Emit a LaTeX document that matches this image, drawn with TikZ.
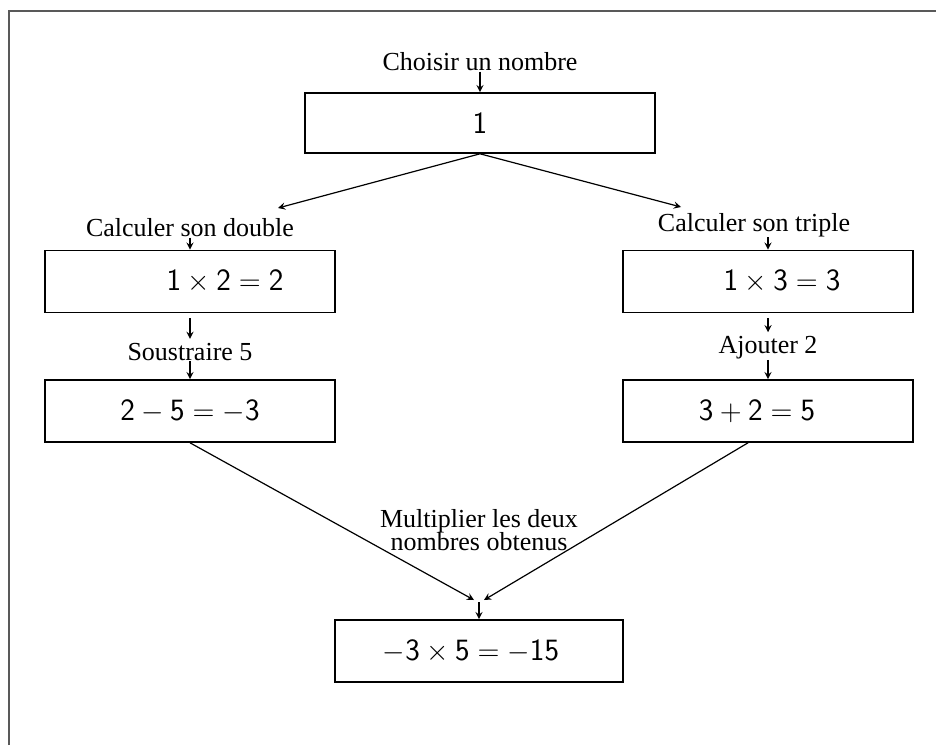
\documentclass[tikz,border=0pt]{standalone}
\usepackage{fontspec}
\setmainfont{Liberation Serif}
\usetikzlibrary{arrows}
\tikzstyle{arrow} = [semithick,->,>=stealth]

\begin{document}
\begin{tikzpicture}[x=0.5pt,y=-0.5pt,
    calcbox/.style={rectangle, draw, thick, minimum width=145pt, minimum height=31pt,
        font=\fontsize{15.5}{18}\selectfont},
    instr/.style={inner sep=0pt, font=\fontsize{13}{10}\selectfont, align=center}]
    \useasboundingbox (0,0) rectangle (936,745);
    \draw[black!65, line width=1pt] (9,745) -- (9,11) -- (936,11);

    \node[instr] (choose) at (480,62) {Choisir un nombre};
    \node[calcbox, minimum width=175pt, minimum height=30pt] (start) at (480,123) {$\mathsf{1}$};
    \draw[arrow] (choose.south) -- (start.north);

    \coordinate (dbltip) at (278,208);
    \coordinate (trptip) at (681,207);
    \draw[arrow] (start.south) -- (dbltip);
    \draw[arrow] (start.south) -- (trptip);

    % left branch
    \node[instr] (double) at (190,228) {Calculer son double};
    \node[calcbox] (dbl) at (190,281.5) {\hspace*{35pt}$\mathsf{1\times 2=2}$};
    \draw[arrow] (double.south) -- (dbl.north);
    \node[instr] (subtract) at (190,352) {Soustraire 5};
    \draw[arrow, shorten <=2.5pt, shorten >=2pt] (dbl.south) -- (subtract.north);
    \node[calcbox] (diff) at (190,411) {$\mathsf{2-5=-3}$};
    \draw[arrow] (subtract.south) -- (diff.north);

    % right branch
    \node[instr] (triple) at (754,225) {Calculer son triple};
    \node[calcbox] (trp) at (768,281.5) {\hspace*{14pt}$\mathsf{1\times 3=3}$};
    \draw[arrow] (triple.south -| trp.north) -- (trp.north);
    \node[instr] (add) at (768,348) {Ajouter 2};
    \draw[arrow, shorten <=2.5pt, shorten >=2pt] (trp.south) -- (add.north);
    \node[calcbox] (sum) at (768,411) {$\mathsf{3+2=5}$\hspace*{11pt}};
    \draw[arrow] (add.south) -- (sum.north);

    % bottom
    \node[instr] (multiply) at (479,530) {Multiplier les deux\\[-1.5pt]nombres obtenus};
    \coordinate (meetl) at (474,600);
    \coordinate (meetr) at (484,600);
    \coordinate (meet) at (479,602);
    \node[calcbox, minimum width=144pt] (prod) at (479,651) {$\mathsf{-3\times 5=-15}$\hspace*{8pt}};
    \draw[arrow] (diff.south) -- (meetl);
    \draw[arrow] ([xshift=-10pt]sum.south) -- (meetr);
    \draw[arrow] (meet) -- (prod.north);
\end{tikzpicture}
\end{document}
